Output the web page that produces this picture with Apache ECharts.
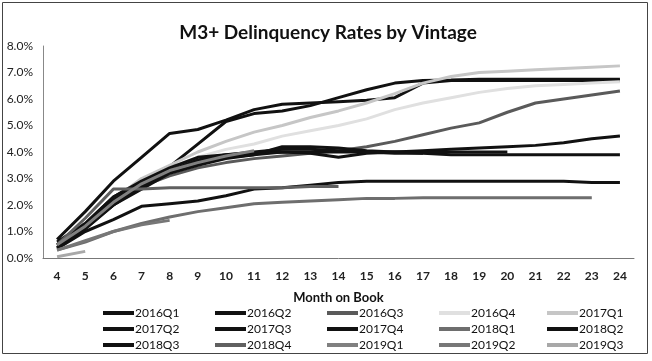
<!DOCTYPE html>
<html>
<head>
<meta charset="utf-8">
<script src="https://cdn.jsdelivr.net/npm/echarts@6/dist/echarts.min.js"></script>
<style>
html,body{margin:0;padding:0;background:#fff;}
#chart{width:652px;height:361px;}
</style>
</head>
<body>
<div id="chart"></div>
<script>
var months = ['4','5','6','7','8','9','10','11','12','13','14','15','16','17','18','19','20','21','22','23','24'];
var yTicks = [0,1,2,3,4,5,6,7,8];
var names = ['2016Q1','2016Q2','2016Q3','2016Q4','2017Q1','2017Q2','2017Q3','2017Q4','2018Q1','2018Q2','2018Q3','2018Q4','2019Q1','2019Q2','2019Q3'];

var v2016Q1 = [0.7,1.75,2.9,3.8,4.7,4.85,5.2,5.6,5.8,5.85,5.9,5.95,6.05,6.6,6.7,6.7,6.7,6.7,6.7,6.7,6.7];
var v2016Q2 = [0.5,1.3,2.3,2.9,3.45,4.3,5.15,5.45,5.55,5.75,6.05,6.35,6.6,6.7,6.72,6.75,6.75,6.75,6.75,6.75,6.75];
var v2016Q3 = [0.4,1.1,2.0,2.7,3.1,3.4,3.6,3.75,3.85,3.95,4.05,4.2,4.4,4.65,4.9,5.1,5.5,5.85,6.0,6.15,6.3];
var v2016Q4 = [0.5,1.2,2.1,2.9,3.4,3.8,4.1,4.3,4.6,4.8,5.0,5.25,5.6,5.85,6.05,6.25,6.4,6.5,6.55,6.6,6.65];
var v2017Q1 = [0.5,1.3,2.2,3.0,3.5,4.0,4.4,4.75,5.0,5.3,5.55,5.85,6.2,6.6,6.85,7.0,7.05,7.1,7.15,7.2,7.25];
var v2017Q2 = [0.6,1.3,2.3,2.9,3.4,3.8,3.9,3.95,4.0,3.95,3.8,3.95,4.0,4.05,4.1,4.15,4.2,4.25,4.35,4.5,4.6];
var v2017Q3 = [0.5,1.2,2.0,2.6,3.2,3.5,3.75,3.9,4.2,4.2,4.15,4.05,4.0,3.95,3.9,3.9,3.9,3.9,3.9,3.9,3.9];
var v2017Q4 = [0.35,1.0,1.45,1.95,2.05,2.15,2.35,2.6,2.65,2.75,2.85,2.9,2.9,2.9,2.9,2.9,2.9,2.9,2.9,2.85,2.85];
var v2018Q1 = [0.3,0.6,1.0,1.3,1.55,1.75,1.9,2.05,2.1,2.15,2.2,2.25,2.25,2.27,2.27,2.27,2.27,2.27,2.27,2.27,null];
var v2018Q2 = [0.5,1.2,2.2,2.8,3.3,3.6,3.8,3.9,4.0,4.0,4.0,4.0,4.0,4.0,4.0,4.0,4.0,null,null,null,null];
var v2018Q3 = [0.4,1.1,2.0,2.7,3.3,3.7,3.9,4.0,4.1,4.1,4.05,4.0,3.95,3.95,null,null,null,null,null,null,null];
var v2018Q4 = [0.5,1.5,2.6,2.6,2.65,2.65,2.65,2.65,2.65,2.7,2.7,null,null,null,null,null,null,null,null,null,null];
var v2019Q1 = [0.5,1.2,2.1,2.8,3.3,3.6,3.85,4.05,null,null,null,null,null,null,null,null,null,null,null,null,null];
var v2019Q2 = [0.3,0.65,1.0,1.25,1.42,null,null,null,null,null,null,null,null,null,null,null,null,null,null,null,null];
var v2019Q3 = [0.05,0.25,null,null,null,null,null,null,null,null,null,null,null,null,null,null,null,null,null,null,null];

var values = [v2016Q1,v2016Q2,v2016Q3,v2016Q4,v2017Q1,v2017Q2,v2017Q3,v2017Q4,v2018Q1,v2018Q2,v2018Q3,v2018Q4,v2019Q1,v2019Q2,v2019Q3];
var colors = ['#111','#111','#5a5a5a','#e0e0e0','#c6c6c6','#111','#111','#111','#6e6e6e','#111','#111','#606060','#808080','#777','#a8a8a8'];

var FONT = 'Lato, "Open Sans", sans-serif';

var series = names.map(function(n, i){
  return {
    name: n, type: 'line', data: values[i], showSymbol: false, symbol: 'none',
    lineStyle: {color: colors[i], width: 3}, itemStyle: {color: colors[i]},
    connectNulls: false, animation: false
  };
});

var colX = [103, 215, 327, 439, 547];
var rowY = [314, 330, 346];
var legends = names.map(function(n, i){
  var r = Math.floor(i / 5), c = i % 5;
  return {
    data: [n], left: colX[c], top: rowY[r] - 7, padding: 0,
    icon: 'rect', itemWidth: 31, itemHeight: 4, itemGap: 0,
    textStyle: {fontFamily: FONT, fontSize: 12, color: '#111', padding: [0,0,0,-4]},
    selectedMode: false
  };
});

var chart = echarts.init(document.getElementById('chart'));
chart.setOption({
  animation: false,
  backgroundColor: '#fff',
  title: {
    text: 'M3+ Delinquency Rates by Vintage', left: 323, top: 18, textAlign: 'center',
    textStyle: {fontFamily: FONT, fontSize: 19, fontWeight: 'bold', color: '#111'}
  },
  graphic: [{type: 'rect', shape: {x: 2.5, y: 2.5, width: 645, height: 351},
    style: {fill: 'none', stroke: '#444', lineWidth: 1}, silent: true}],
  grid: {left: 43, right: 18, top: 46, bottom: 103},
  legend: legends,
  xAxis: {
    type: 'category', data: months, boundaryGap: true,
    axisLine: {lineStyle: {color: '#777', width: 1}},
    axisTick: {show: false},
    axisLabel: {fontFamily: FONT, fontSize: 12, fontWeight: 'bold', color: '#222', margin: 12},
    name: 'Month on Book', nameLocation: 'middle', nameGap: 33,
    nameTextStyle: {fontFamily: FONT, fontSize: 13, fontWeight: 'bold', color: '#111'}
  },
  yAxis: {
    type: 'value', min: yTicks[0], max: yTicks[yTicks.length-1], interval: 1,
    axisLine: {show: true, lineStyle: {color: '#888', width: 1}},
    axisTick: {show: false},
    splitLine: {show: false},
    axisLabel: {fontFamily: FONT, fontSize: 12, color: '#222', margin: 10,
      formatter: function(v){ return v.toFixed(1) + '%'; }}
  },
  series: series
});
</script>
</body>
</html>
